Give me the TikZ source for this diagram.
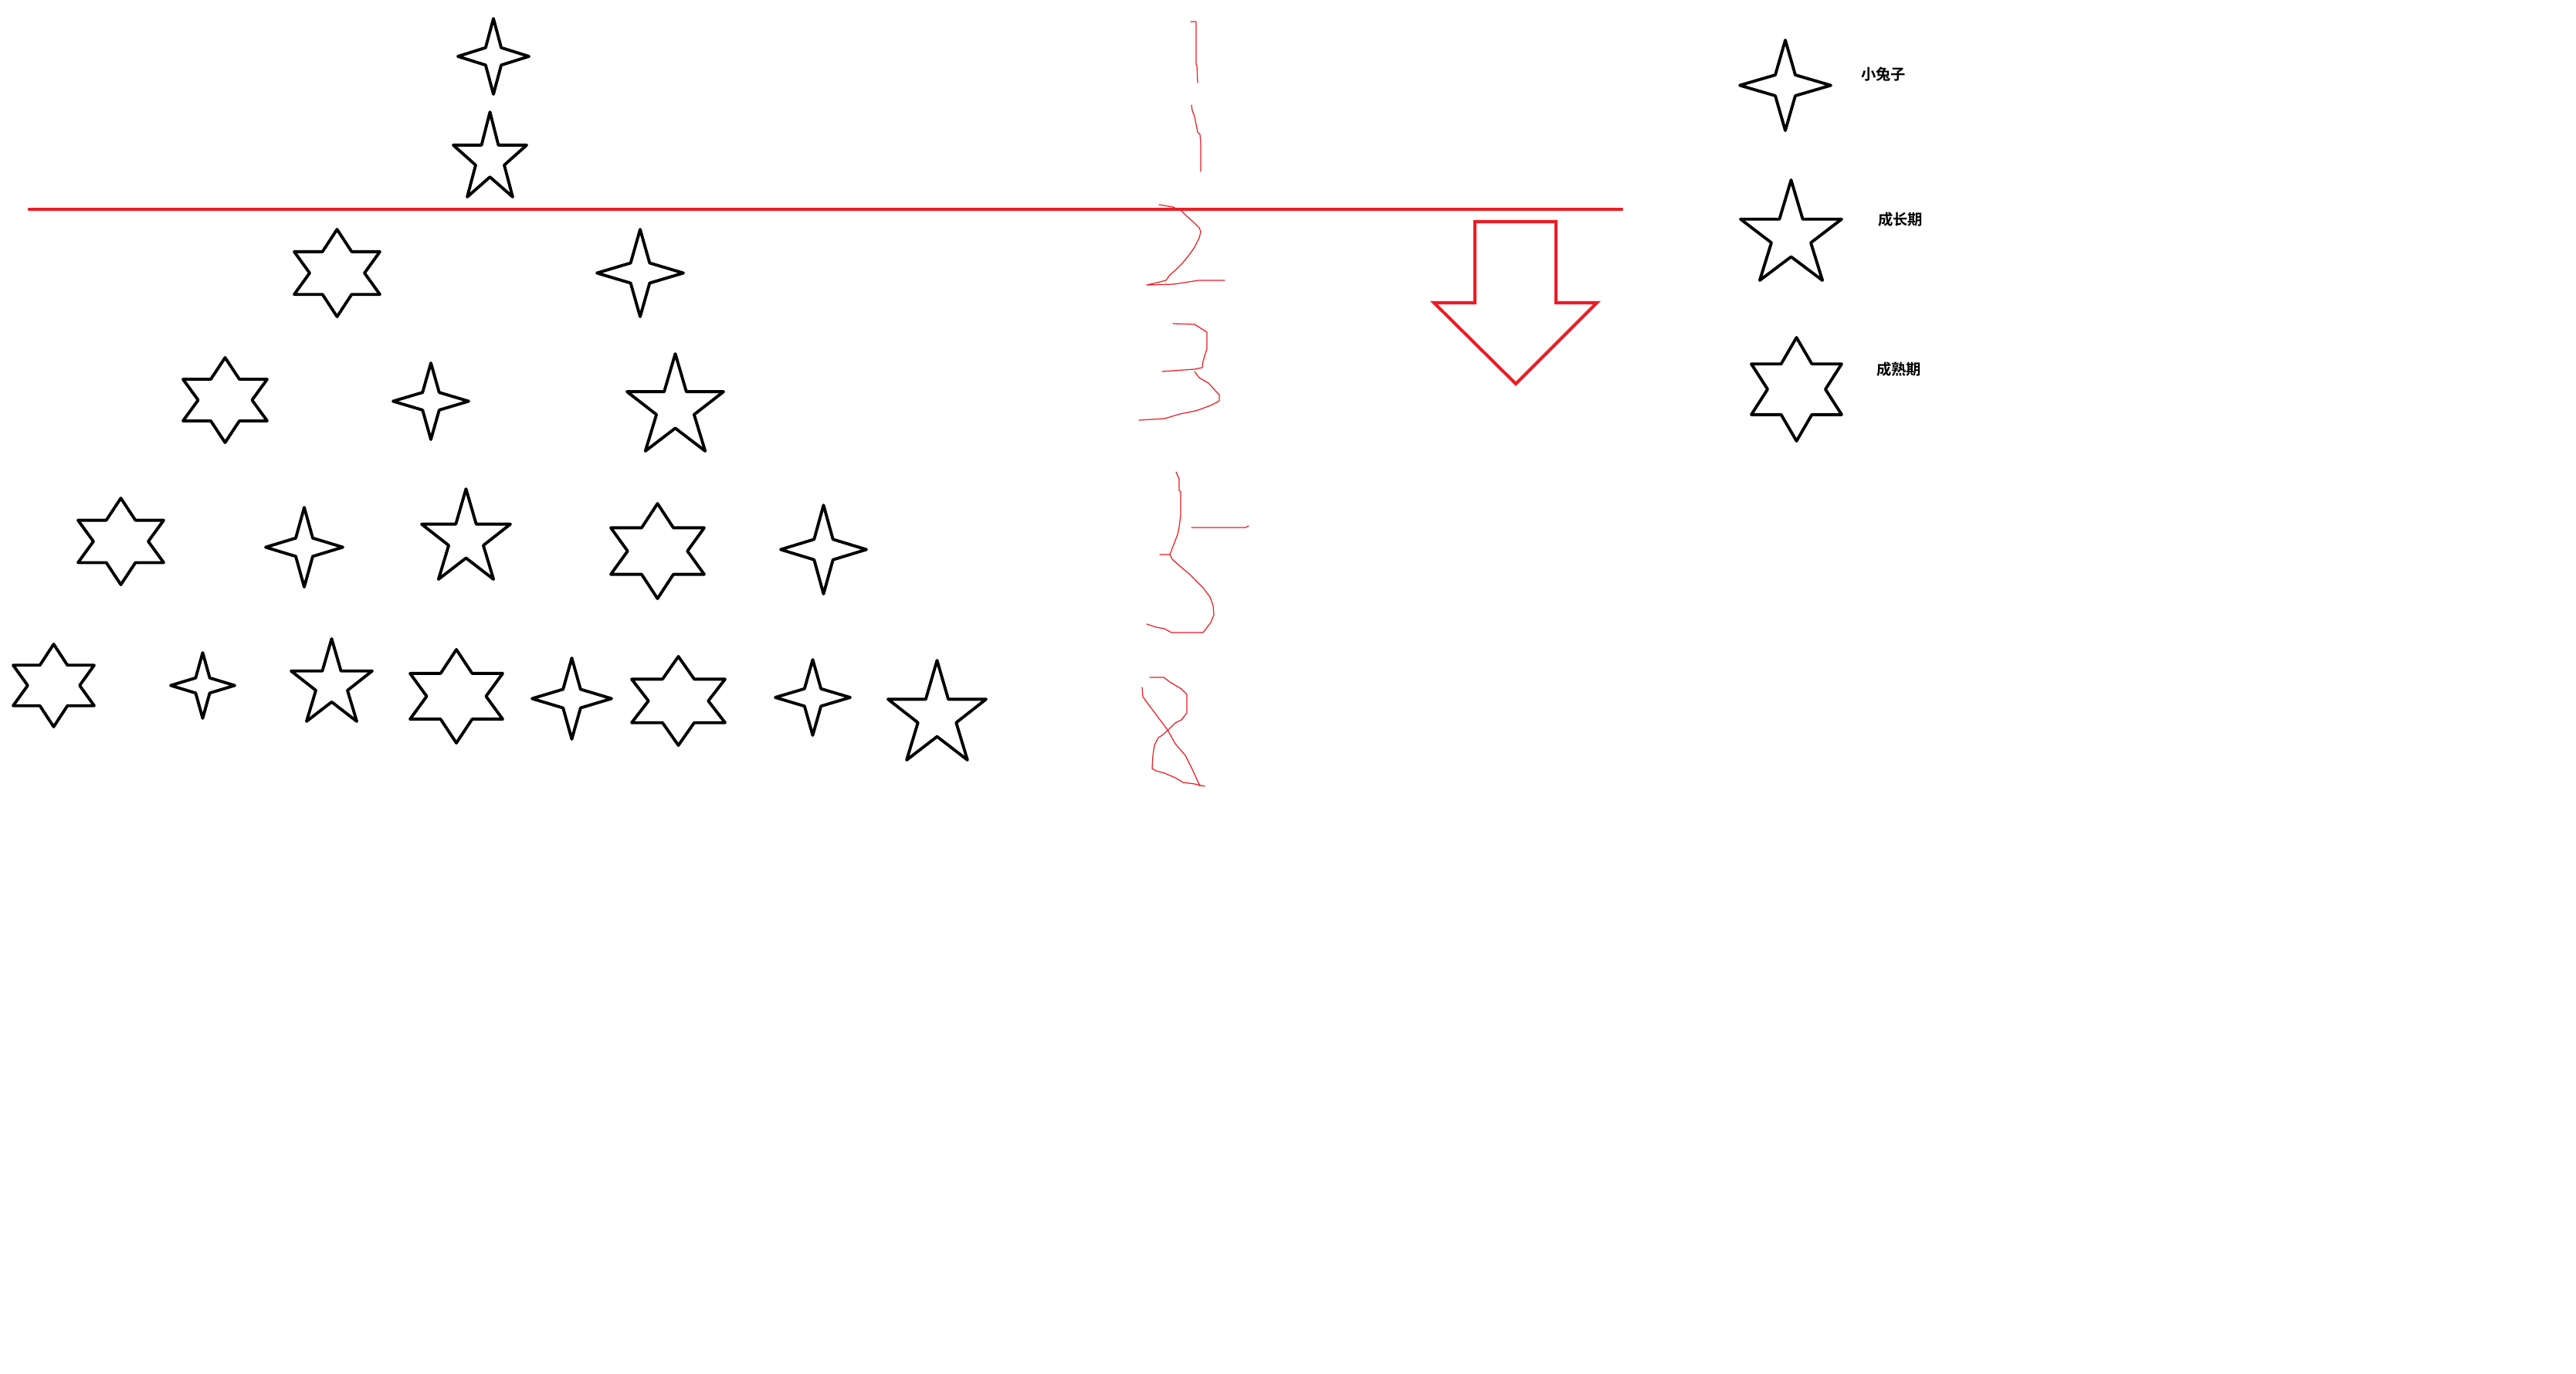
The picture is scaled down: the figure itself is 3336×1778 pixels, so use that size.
\documentclass[tikz,border=0pt]{standalone}
\usepackage{fontspec}
\newfontfamily\cjk{Noto Sans CJK SC}[BoldFont={Noto Sans CJK SC Bold}]
\definecolor{pen}{HTML}{ED1C24}
\tikzset{
  starline/.style={draw=black, line width=1.1pt, line join=round},
  penline/.style={draw=pen, line width=0.35pt, line join=round, line cap=round},
  legtext/.style={font=\cjk\bfseries\fontsize{5.5pt}{6.5pt}\selectfont, inner sep=0pt},
}

\begin{document}
\begin{tikzpicture}[x=0.01cm, y=-0.01cm]
  \fill[white] (0,0) rectangle (3336,1778);
  \useasboundingbox (0,0) rectangle (3336,1778);

  % four-pointed stars
  \foreach \xa/\ya/\xb/\yb in {591/22/687/124, 771/295/887/412, 507/468/609/571,
      342/655/446/762, 1009/652/1124/771, 219/843/306/932, 687/850/794/959,
      1002/852/1103/954, 2251/50/2373/171}
    \draw[starline, shift={({(\xa+\xb)/2},{(\ya+\yb)/2})},
        xscale={(\xb-\xa)/2-2}, yscale={(\yb-\ya)/2-2}]
      (0,-1) -- (0.22,-0.23) -- (1,0) -- (0.22,0.23) -- (0,1)
      -- (-0.22,0.23) -- (-1,0) -- (-0.22,-0.23) -- cycle;

  % five-pointed stars
  \foreach \xa/\ya/\xb/\yb in {585/143/684/257, 810/456/939/586, 544/631/663/752,
      375/825/484/936, 1148/853/1279/986, 2252/231/2387/365}
    \draw[starline, shift={({(\xa+\xb)/2},{(\ya+\yb)/2})},
        xscale={(\xb-\xa)/2-2}, yscale={(\yb-\ya)/2-2}]
      (0,-1) -- (0.23,-0.22) -- (1,-0.22) -- (0.39,0.25) -- (0.62,1)
      -- (0,0.53) -- (-0.62,1) -- (-0.39,0.25) -- (-1,-0.22)
      -- (-0.23,-0.22) -- cycle;

  % six-pointed stars
  \foreach \xa/\ya/\xb/\yb in {379/295/494/412, 235/461/348/575, 99/643/214/759,
      789/650/914/777, 15/832/124/943, 529/839/653/964, 816/848/941/967,
      2266/435/2387/573}
    \draw[starline, shift={({(\xa+\xb)/2},{(\ya+\yb)/2})},
        xscale={(\xb-\xa)/2-2}, yscale={(\yb-\ya)/2-2}]
      (0,-1) -- (0.34,-0.49) -- (1,-0.49) -- (0.64,0) -- (1,0.49)
      -- (0.34,0.49) -- (0,1) -- (-0.34,0.49) -- (-1,0.49) -- (-0.64,0)
      -- (-1,-0.49) -- (-0.34,-0.49) -- cycle;

  % divider and arrow
  \draw[pen, line width=1.3pt, line cap=round] (38,271) -- (2100,271);
  \draw[pen, line width=1.15pt, line join=miter]
    (1910,287) -- (2015,287) -- (2015,392) -- (2068,392) -- (1963,497)
    -- (1857,392) -- (1910,392) -- cycle;

  % handwritten 1 1 2 3 5 8
  \draw[penline] (1542,28) -- (1549,28) -- (1549,83) -- (1550,85) -- (1551,107);
  \draw[penline] (1543,136) -- (1544,143) -- (1547,151) -- (1549,161) -- (1551,171)
    -- (1554,174) -- (1555,186) -- (1555,222);
  \draw[penline] (1501,265) -- (1519,268) -- (1530,273) -- (1537,280) -- (1547,289)
    -- (1553,295) -- (1555,300) -- (1553,308) -- (1547,320) -- (1540,330)
    -- (1532,340) -- (1522,350) -- (1515,356) -- (1510,363) -- (1498,366)
    -- (1485,369) -- (1520,368) -- (1552,363) -- (1586,363);
  \draw[penline] (1519,419) -- (1547,420) -- (1563,430) -- (1563,451) -- (1558,468)
    -- (1557,476) -- (1547,478) -- (1505,481);
  \draw[penline] (1547,481) -- (1553,489) -- (1565,496) -- (1575,507) -- (1579,511)
    -- (1579,519) -- (1570,524) -- (1557,529) -- (1548,532) -- (1528,536)
    -- (1508,542) -- (1475,544);
  \draw[penline] (1523,611) -- (1527,620) -- (1527,635) -- (1529,637) -- (1529,666)
    -- (1527,683) -- (1525,692) -- (1520,705) -- (1515,718) -- (1502,718);
  \draw[penline] (1515,718) -- (1518,724) -- (1528,733) -- (1540,743) -- (1550,753)
    -- (1558,761) -- (1567,773) -- (1571,784) -- (1572,796) -- (1568,806)
    -- (1558,819) -- (1517,819) -- (1508,814) -- (1497,812) -- (1485,808);
  \draw[penline] (1543,683) -- (1613,683) -- (1617,681);
  \draw[penline] (1489,877) -- (1507,877) -- (1515,883) -- (1530,892) -- (1537,899)
    -- (1537,923) -- (1530,932) -- (1522,936) -- (1513,945) -- (1505,952)
    -- (1500,955) -- (1495,965) -- (1493,978) -- (1492,995) -- (1497,998)
    -- (1508,1001) -- (1522,1007) -- (1532,1013) -- (1547,1015) -- (1560,1018);
  \draw[penline] (1479,890) -- (1480,902) -- (1485,909) -- (1497,925) -- (1512,945)
    -- (1522,963) -- (1535,978) -- (1545,998) -- (1554,1018);

  % legend
  \node[legtext] (l0) at (2439,96) {小兔子};
  \node[legtext] (l1) at (2461,284) {成长期};
  \node[legtext] (l2) at (2459,478) {成熟期};
\end{tikzpicture}
\end{document}
